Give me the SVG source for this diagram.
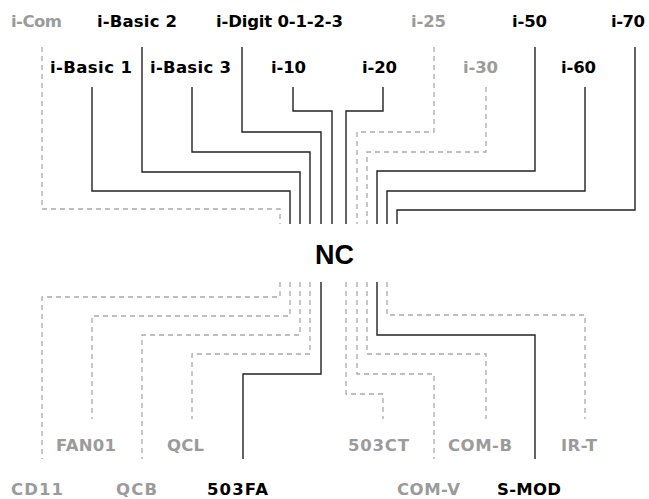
<svg xmlns="http://www.w3.org/2000/svg" width="649" height="499" viewBox="0 0 649 499">
<style>
text{font-family:"DejaVu Sans","Liberation Sans",sans-serif;font-weight:bold;font-size:16.5px;fill:#000}
text.g{fill:#9b9b9b}
text.nc{font-family:"Liberation Sans",Arial,sans-serif;font-size:27px}
.s{fill:none;stroke:#222;stroke-width:1.4}
.d{fill:none;stroke:#aaa;stroke-width:1.3;stroke-dasharray:5 4}
</style>
<rect width="649" height="499" fill="#fff"/>
<g id="connectors">
<path class="d" d="M42,47V209H280V224"/>
<path class="s" d="M92,87V191H290V224"/>
<path class="s" d="M142,47V172H300V224"/>
<path class="s" d="M192,87V152H310V224"/>
<path class="s" d="M242,47V132H321V224"/>
<path class="s" d="M293,87V111H332V224"/>
<path class="s" d="M383,87V111H346V224"/>
<path class="d" d="M434,47V132H357V224"/>
<path class="d" d="M486,87V152H367V224"/>
<path class="s" d="M535,47V171H377V224"/>
<path class="s" d="M585,87V191H387V224"/>
<path class="s" d="M635,47V210H397V224"/>
<path class="d" d="M280,282V297H42V459"/>
<path class="d" d="M290,282V316H92V419"/>
<path class="d" d="M300,282V335H142V459"/>
<path class="d" d="M310,282V354H192V419"/>
<path class="s" d="M321,282V374H243V459"/>
<path class="d" d="M346,282V394H383V419"/>
<path class="d" d="M357,282V374H434V459"/>
<path class="d" d="M367,282V354H486V419"/>
<path class="s" d="M377,282V335H535V459"/>
<path class="d" d="M387,282V315H585V419"/>
</g>
<g id="nc"><text class="nc" x="315" y="264" textLength="39">NC</text></g>
<g id="i-com"><text class="g" x="11" y="27" textLength="51">i-Com</text></g>
<g id="i-basic-2"><text x="97" y="27" textLength="80">i-Basic 2</text></g>
<g id="i-digit"><text x="216" y="27" textLength="127">i-Digit 0-1-2-3</text></g>
<g id="i-25"><text class="g" x="411" y="27" textLength="35">i-25</text></g>
<g id="i-50"><text x="512" y="27" textLength="35">i-50</text></g>
<g id="i-70"><text x="611" y="27" textLength="34">i-70</text></g>
<g id="i-basic-1"><text x="50" y="73" textLength="82">i-Basic 1</text></g>
<g id="i-basic-3"><text x="150" y="73" textLength="81">i-Basic 3</text></g>
<g id="i-10"><text x="271" y="73" textLength="35">i-10</text></g>
<g id="i-20"><text x="362" y="73" textLength="35">i-20</text></g>
<g id="i-30"><text class="g" x="463" y="73" textLength="35">i-30</text></g>
<g id="i-60"><text x="561" y="73" textLength="35">i-60</text></g>
<g id="fan01"><text class="g" x="56" y="451" textLength="60">FAN01</text></g>
<g id="qcl"><text class="g" x="167" y="451" textLength="37">QCL</text></g>
<g id="503ct"><text class="g" x="348" y="451" textLength="61">503CT</text></g>
<g id="com-b"><text class="g" x="448" y="451" textLength="64">COM-B</text></g>
<g id="ir-t"><text class="g" x="561" y="451" textLength="36">IR-T</text></g>
<g id="cd11"><text class="g" x="11" y="495" textLength="52">CD11</text></g>
<g id="qcb"><text class="g" x="116" y="495" textLength="41">QCB</text></g>
<g id="503fa"><text x="207" y="495" textLength="61">503FA</text></g>
<g id="com-v"><text class="g" x="397" y="495" textLength="63">COM-V</text></g>
<g id="s-mod"><text x="497" y="495" textLength="64">S-MOD</text></g>
</svg>
